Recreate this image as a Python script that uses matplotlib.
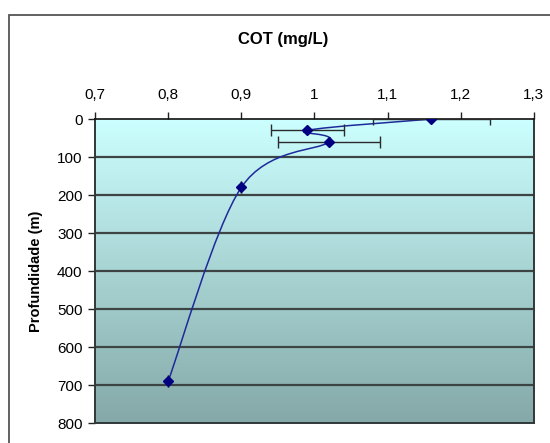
import numpy as np
import matplotlib.pyplot as plt
from matplotlib.path import Path
from matplotlib.patches import PathPatch, Rectangle
from matplotlib.colors import LinearSegmentedColormap

plt.rcParams['font.family'] = ['Liberation Sans', 'DejaVu Sans']

# COT por profundidade
cot = [1.16, 0.99, 1.02, 0.90, 0.80]
prof = [0, 30, 60, 180, 690]
erro = [0.08, 0.05, 0.07, 0, 0]

x_ticks = [0.7, 0.8, 0.9, 1.0, 1.1, 1.2, 1.3]
x_labels = ['0,7', '0,8', '0,9', '1', '1,1', '1,2', '1,3']
y_ticks = [0, 100, 200, 300, 400, 500, 600, 700, 800]

fig = plt.figure(figsize=(5.5, 4.43), dpi=100)
ax = fig.add_axes([0.1727, 0.0451, 0.798, 0.6862])

# moldura do grafico
fig.patches.append(Rectangle((8.5 / 550, -0.2), 2, 1 - 14.5 / 443 + 0.2,
                             transform=fig.transFigure, fill=False,
                             edgecolor='#555555', linewidth=1.3))

# fundo em degrade
cmap = LinearSegmentedColormap.from_list('fundo', ['#ccffff', '#85a8a8'])
grad = np.linspace(0, 1, 256).reshape(-1, 1)
ax.imshow(grad, cmap=cmap, aspect='auto', extent=[0, 1, 0, 1],
          transform=ax.transAxes, zorder=0)

ax.set_xlim(0.7, 1.3)
ax.set_ylim(800, 0)

for y in y_ticks[1:-1]:
    ax.axhline(y, color='#3c4444', linewidth=1.6, zorder=1)

# linha suavizada (Catmull-Rom em Bezier)
pts = np.column_stack([cot, prof]).astype(float)
ext = np.vstack([pts[0], pts, pts[-1]])
verts = [pts[0]]
codes = [Path.MOVETO]
for i in range(len(pts) - 1):
    p0, p1, p2, p3 = ext[i], ext[i + 1], ext[i + 2], ext[i + 3]
    c1 = p1 + (p2 - p0) / 6
    c2 = p2 - (p3 - p1) / 6
    verts += [c1, c2, p2]
    codes += [Path.CURVE4] * 3
ax.add_patch(PathPatch(Path(verts, codes), facecolor='none',
                       edgecolor='#1e2a9a', linewidth=1.1, zorder=3))

ax.errorbar(cot, prof, xerr=erro, fmt='none', ecolor='#2a2a2a',
            elinewidth=1.0, capsize=4, capthick=1.0, zorder=4)
ax.plot(cot, prof, linestyle='none', marker='D', markersize=5.5,
        color='#000080', zorder=5)

ax.xaxis.tick_top()
ax.set_xticks(x_ticks)
ax.set_xticklabels(x_labels)
ax.set_yticks(y_ticks)
ax.tick_params(axis='both', direction='out', length=5, width=1,
               labelsize=11, color='#222222')
ax.tick_params(axis='x', pad=7)
ax.tick_params(axis='y', pad=4)
for s in ['left', 'right', 'bottom']:
    ax.spines[s].set_color('#303838')
    ax.spines[s].set_linewidth(1.4)
ax.spines['top'].set_color('#111111')
ax.spines['top'].set_linewidth(1.2)

ax.set_ylabel('Profundidade (m)', fontsize=10.5, fontweight='bold', labelpad=10)
fig.text(0.515, 0.91, 'COT (mg/L)', ha='center', va='center',
         fontsize=12, fontweight='bold')

fig.savefig('out.png', dpi=100)
